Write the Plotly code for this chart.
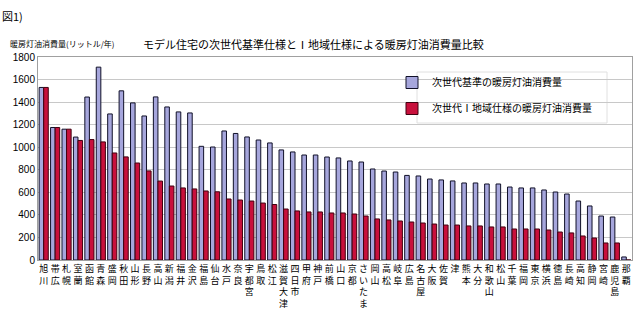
import plotly.graph_objects as go

cities = ["旭川", "帯広", "札幌", "室蘭", "函館", "青森", "盛岡", "秋田", "山形", "長野",
          "高山", "新潟", "福井", "金沢", "福島", "仙台", "水戸", "奈良", "宇都宮", "鳥取",
          "松江", "滋賀大津", "四日市", "甲府", "神戸", "前橋", "山口", "京都", "さいたま", "岡山",
          "高松", "岐阜", "広島", "名古屋", "大阪", "佐賀", "津", "熊本", "大分", "和歌山",
          "松山", "千葉", "福岡", "東京", "横浜", "徳島", "長崎", "高知", "静岡", "宮崎",
          "鹿児島", "那覇"]

next_gen = [1530, 1175, 1160, 1090, 1445, 1710, 1295, 1500, 1393, 1277,
            1446, 1357, 1313, 1304, 1008, 1002, 1144, 1122, 1091, 1064,
            1038, 976, 958, 931, 931, 913, 905, 878, 869, 807,
            789, 780, 750, 745, 718, 710, 701, 683, 683, 674,
            674, 647, 639, 639, 621, 603, 585, 523, 479, 390,
            381, 27]

region1 = [1530, 1175, 1160, 1060, 1068, 1047, 949, 914, 860, 790,
           700, 656, 639, 630, 612, 605, 541, 532, 523, 505,
           492, 452, 435, 426, 426, 417, 417, 408, 390, 364,
           355, 346, 337, 328, 319, 310, 310, 302, 302, 293,
           293, 275, 275, 275, 266, 248, 240, 213, 195, 151,
           151, 0]

y_ticks = [0, 200, 400, 600, 800, 1000, 1200, 1400, 1600, 1800]

FONT = "Noto Sans CJK JP"
tick_text = ["<br>".join(list(c)) for c in cities]

fig = go.Figure()
fig.add_trace(go.Bar(
    x=cities, y=next_gen, name="次世代基準の暖房灯油消費量",
    marker=dict(color="#a6a6dc", line=dict(color="#101028", width=1)),
    legendgroup="a",
))
fig.add_trace(go.Bar(
    x=cities, y=region1, name="次世代Ⅰ地域仕様の暖房灯油消費量",
    marker=dict(color="#c8103c", line=dict(color="#400010", width=1)),
    legendgroup="b",
))

fig.update_layout(
    width=640, height=332,
    margin=dict(l=38, r=8, t=57, b=72),
    paper_bgcolor="white", plot_bgcolor="white",
    barmode="group", bargap=0.2, bargroupgap=0.0,
    font=dict(family=FONT, color="#000000", size=10),
    showlegend=True,
    legend=dict(
        x=(392 - 38) / 594, y=(260 - 68) / 203, xanchor="left", yanchor="top",
        bgcolor="rgba(0,0,0,0)", borderwidth=0,
        font=dict(size=10, family=FONT),
        tracegroupgap=7,
        itemwidth=30,
    ),
    xaxis=dict(
        type="category", tickmode="array", tickvals=cities, ticktext=tick_text,
        tickangle=0, tickfont=dict(size=9, family=FONT),
        showline=True, linecolor="#a0a0a0", linewidth=1, mirror=True,
        ticks="", showgrid=False,
    ),
    yaxis=dict(
        range=[0, 1800], tickvals=y_ticks,
        tickfont=dict(size=10, family="Liberation Sans"),
        showgrid=True, gridcolor="#c8c8c8", gridwidth=1,
        showline=True, linecolor="#a0a0a0", linewidth=1, mirror=True,
        ticks="", zeroline=False,
    ),
)

# white legend panel covering gridlines (as in the reference)
fig.add_shape(type="rect", xref="paper", yref="paper", layer="below",
              x0=(417 - 38) / 594, x1=(607 - 38) / 594,
              y0=(260 - 123) / 203, y1=(260 - 72) / 203,
              fillcolor="white", line=dict(color="#e0e0e0", width=1))

fig.add_annotation(text="図1)", xref="paper", yref="paper", x=-38/594, y=(260-16)/203,
                   xanchor="left", yanchor="middle", showarrow=False,
                   font=dict(size=11, family=FONT))
fig.add_annotation(text="暖房灯油消費量(リットル/年)", xref="paper", yref="paper",
                   x=-30/594, y=(260-44)/203, xanchor="left", yanchor="middle", showarrow=False,
                   font=dict(size=8, family=FONT))
fig.add_annotation(text="モデル住宅の次世代基準仕様とⅠ地域仕様による暖房灯油消費量比較",
                   xref="paper", yref="paper", x=(313-38)/594, y=(260-44)/203,
                   xanchor="center", yanchor="middle", showarrow=False,
                   font=dict(size=11, family=FONT))

fig.write_html("out.html")
